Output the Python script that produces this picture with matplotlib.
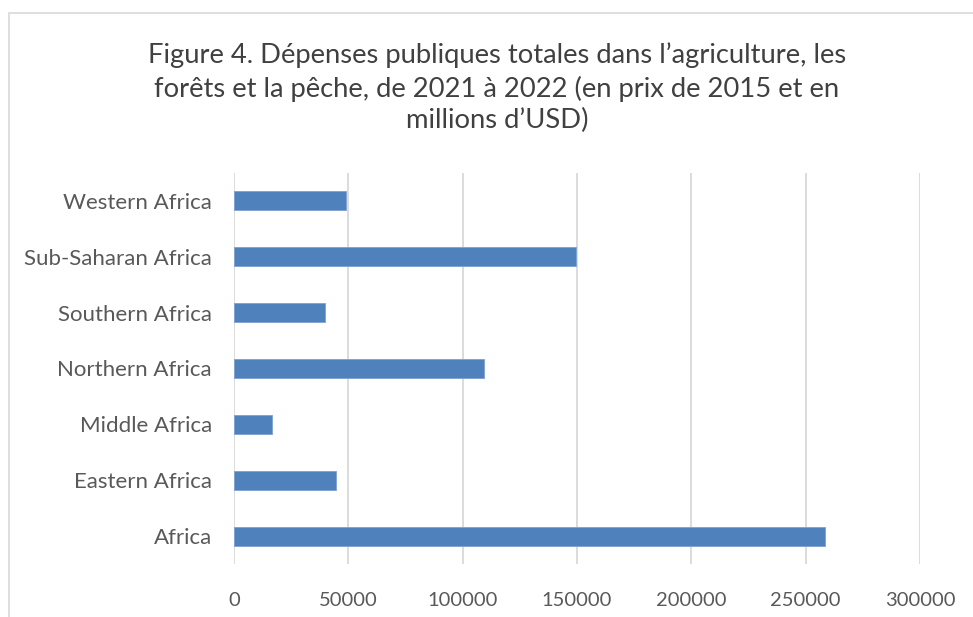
import matplotlib.pyplot as plt
from matplotlib.patches import Rectangle

plt.rcParams['font.family'] = ['Lato', 'DejaVu Sans']

regions = ['Africa', 'Eastern Africa', 'Middle Africa', 'Northern Africa',
           'Southern Africa', 'Sub-Saharan Africa', 'Western Africa']
spending = [258500, 44700, 16500, 109200, 39800, 149600, 48800]
x_ticks = [0, 50000, 100000, 150000, 200000, 250000, 300000]

title = ("Figure 4. Dépenses publiques totales dans l’agriculture, les\n"
         "forêts et la pêche, de 2021 à 2022 (en prix de 2015 et en\n"
         "millions d’USD)")

fig = plt.figure(figsize=(9.73, 6.17), dpi=100)

# chart-area border
fig.patches.append(Rectangle((9 / 973, -0.1), 1.0, 1 - 13 / 617 + 0.1,
                             transform=fig.transFigure, fill=False,
                             edgecolor='#d9d9d9', linewidth=1.2))

ax = fig.add_axes([234 / 973, 53 / 617, 686 / 973, 391 / 617])
ax.barh(regions, spending, height=0.34, color='#4f81bd',
        edgecolor='#7ea1d2', linewidth=0.6, zorder=3)

ax.set_xlim(0, 300000)
ax.set_ylim(-0.5, len(regions) - 0.5)
ax.set_xticks(x_ticks)
ax.set_xticklabels([str(v) for v in x_ticks])
ax.grid(axis='x', color='#d9d9d9', linewidth=1.3, zorder=0)
for s in ax.spines.values():
    s.set_visible(False)
ax.tick_params(length=0, labelcolor='#595959')
ax.tick_params(axis='x', pad=20, labelsize=14.5)
ax.tick_params(axis='y', pad=16, labelsize=16)

fig.text(497 / 973, 1 - 88 / 617, title, ha='center', va='center',
         fontsize=19.7, color='#404040', linespacing=1.33)

fig.savefig('out.png', dpi=100)
